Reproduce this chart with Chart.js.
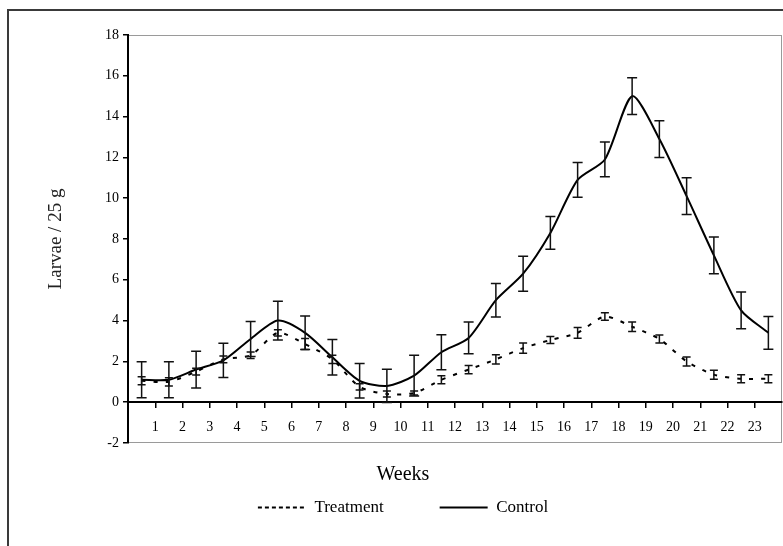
<!DOCTYPE html>
<html>
<head>
<meta charset="utf-8">
<script src="https://cdn.jsdelivr.net/npm/chart.js@4"></script>
<style>
  html, body { margin: 0; padding: 0; background: #fff; }
  #wrap { position: relative; width: 783px; height: 546px; overflow: hidden; }
  #frame { position: absolute; left: 7px; top: 9px; width: 800px; height: 560px; border: 2px solid #3a3a3a; }
  #chart { position: absolute; left: 0; top: 0; }
</style>
</head>
<body>
<div id="wrap">
  <div id="frame"></div>
  <canvas id="chart" width="783" height="546"></canvas>
</div>
<script>
// Larvae per 25 g over the weeks, treatment vs control, with error bars.
// Samples sit between the week ticks, so they get their own x positions.

const weekTicks = [1, 2, 3, 4, 5, 6, 7, 8, 9, 10, 11, 12, 13, 14, 15, 16, 17, 18, 19, 20, 21, 22, 23];
const yTicks = [-2, 0, 2, 4, 6, 8, 10, 12, 14, 16, 18];
const sampleX = [0.5, 1.5, 2.5, 3.5, 4.5, 5.5, 6.5, 7.5, 8.5, 9.5, 10.5, 11.5,
                 12.5, 13.5, 14.5, 15.5, 16.5, 17.5, 18.5, 19.5, 20.5, 21.5, 22.5, 23.5];

const treatment    = [1.05, 1.0, 1.5, 2.1, 2.3, 3.4, 2.85, 2.1, 0.75, 0.4, 0.45, 1.1,
                      1.6, 2.1, 2.65, 3.05, 3.4, 4.2, 3.7, 3.1, 2.0, 1.35, 1.15, 1.15];
const treatmentErr = [0.2, 0.2, 0.17, 0.17, 0.16, 0.15, 0.27, 0.2, 0.15, 0.15, 0.1, 0.2,
                      0.2, 0.23, 0.25, 0.17, 0.26, 0.18, 0.23, 0.2, 0.22, 0.22, 0.2, 0.2];
const control      = [1.1, 1.1, 1.6, 2.05, 3.1, 4.0, 3.4, 2.2, 1.05, 0.8, 1.3, 2.45,
                      3.15, 5.0, 6.3, 8.3, 10.9, 11.9, 15.0, 12.9, 10.1, 7.2, 4.5, 3.4];
const controlErr   = [0.88, 0.88, 0.9, 0.84, 0.86, 0.95, 0.82, 0.87, 0.85, 0.82, 1.0, 0.86,
                      0.78, 0.82, 0.86, 0.8, 0.85, 0.85, 0.9, 0.9, 0.9, 0.9, 0.9, 0.8];

const serif = "'Liberation Serif', 'Times New Roman', serif";

// vertical error bars with caps, drawn from each dataset's `errors`
const errorBars = {
  id: "errorBars",
  afterDatasetsDraw(chart) {
    const { ctx } = chart;
    const y = chart.scales.y;
    chart.data.datasets.forEach((ds, di) => {
      if (!ds.errors) return;
      const meta = chart.getDatasetMeta(di);
      ctx.save();
      ctx.strokeStyle = "#111";
      ctx.lineWidth = 1.5;
      ctx.setLineDash([]);
      meta.data.forEach((pt, i) => {
        const v = ds.data[i].y, e = ds.errors[i];
        const top = y.getPixelForValue(v + e);
        const bot = y.getPixelForValue(v - e);
        const w = ds.capWidth;
        ctx.beginPath();
        ctx.moveTo(pt.x, top); ctx.lineTo(pt.x, bot);
        ctx.moveTo(pt.x - w, top); ctx.lineTo(pt.x + w, top);
        ctx.moveTo(pt.x - w, bot); ctx.lineTo(pt.x + w, bot);
        ctx.stroke();
      });
      ctx.restore();
    });
  }
};

// thin grey box round the plot area
const plotFrame = {
  id: "plotFrame",
  beforeDraw(chart) {
    const { ctx, chartArea: a } = chart;
    ctx.save();
    ctx.strokeStyle = "#9a9a9a";
    ctx.lineWidth = 1;
    ctx.strokeRect(a.left + 0.5, a.top + 0.5, a.right - a.left - 1, a.bottom - a.top - 1);
    ctx.restore();
  }
};

new Chart(document.getElementById("chart"), {
  type: "line",
  data: {
    datasets: [
      {
        label: "Treatment",
        data: sampleX.map((x, i) => ({ x, y: treatment[i] })),
        errors: treatmentErr,
        capWidth: 4,
        borderColor: "#000",
        backgroundColor: "#000",
        borderWidth: 2,
        borderDash: [4, 8],
        tension: 0.25,
        pointRadius: 0,
        pointHoverRadius: 0
      },
      {
        label: "Control",
        data: sampleX.map((x, i) => ({ x, y: control[i] })),
        errors: controlErr,
        capWidth: 5,
        borderColor: "#000",
        backgroundColor: "#000",
        borderWidth: 2,
        tension: 0.25,
        pointRadius: 0,
        pointHoverRadius: 0
      }
    ]
  },
  options: {
    responsive: false,
    animation: false,
    events: [],
    layout: { padding: { left: 24, top: 35, right: 1, bottom: 20 } },
    plugins: {
      tooltip: { enabled: false },
      title: {
        display: true,
        text: "Weeks",
        position: "bottom",
        weight: 500,
        color: "#000",
        font: { family: serif, size: 20, weight: "normal" },
        padding: { top: 20, bottom: -44 }
      },
      legend: {
        position: "bottom",
        labels: {
          usePointStyle: true,
          pointStyle: "line",
          pointStyleWidth: 48,
          padding: 56,
          color: "#000",
          font: { family: serif, size: 17 },
          generateLabels(chart) {
            const items = Chart.defaults.plugins.legend.labels.generateLabels(chart);
            items.forEach(it => { if (it.datasetIndex === 0) it.lineDash = [4, 3]; });
            return items;
          }
        }
      }
    },
    scales: {
      x: {
        type: "linear",
        min: 0,
        max: 24,
        position: { y: 0 },
        afterBuildTicks(scale) { scale.ticks = weekTicks.map(v => ({ value: v })); },
        ticks: {
          autoSkip: false,
          maxRotation: 0,
          padding: 12,
          color: "#000",
          font: { family: serif, size: 14 }
        },
        grid: { drawOnChartArea: false, tickLength: 5, color: "#000", lineWidth: 1.5 },
        border: { display: true, color: "#000", width: 2 }
      },
      y: {
        min: -2,
        max: 18,
        afterBuildTicks(scale) { scale.ticks = yTicks.map(v => ({ value: v })); },
        afterFit(scale) { scale.width = 104; },
        ticks: { padding: 4, color: "#000", font: { family: serif, size: 14 } },
        grid: { drawOnChartArea: false, tickLength: 5, color: "#000", lineWidth: 1.5 },
        border: { display: true, color: "#000", width: 2 },
        title: {
          display: true,
          text: "Larvae / 25 g",
          color: "#222",
          font: { family: serif, size: 19 },
          padding: { top: 21, bottom: 0 }
        }
      }
    }
  },
  plugins: [plotFrame, errorBars]
});
</script>
</body>
</html>
